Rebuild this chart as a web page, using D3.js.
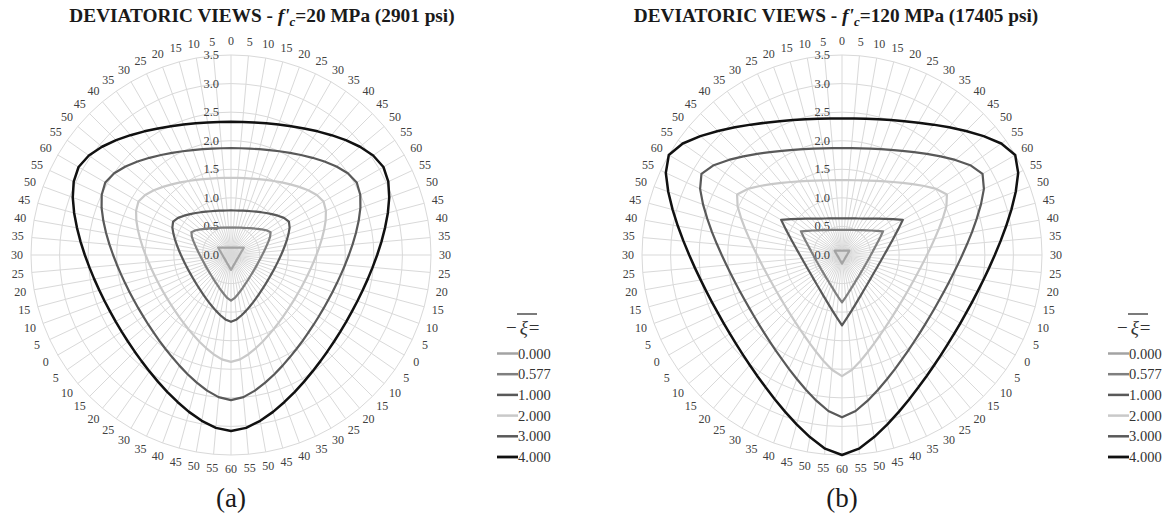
<!DOCTYPE html>
<html>
<head>
<meta charset="utf-8">
<script src="https://cdn.jsdelivr.net/npm/d3@7"></script>
<style>
  body { margin: 0; background: #fff; }
  svg { display: block; }
  svg text { font-family: "Liberation Serif", "DejaVu Serif", serif; }
</style>
</head>
<body>
<svg id="chart" width="1167" height="520"></svg>
<script>
// Lode angle label on each of the 72 spokes, clockwise from the top
const spokeLabels = [
  0, 5, 10, 15, 20, 25, 30, 35, 40, 45, 50, 55, 60, 55, 50, 45, 40, 35, 30, 25, 20, 15, 10, 5,
  0, 5, 10, 15, 20, 25, 30, 35, 40, 45, 50, 55, 60, 55, 50, 45, 40, 35, 30, 25, 20, 15, 10, 5,
  0, 5, 10, 15, 20, 25, 30, 35, 40, 45, 50, 55, 60, 55, 50, 45, 40, 35, 30, 25, 20, 15, 10, 5
];

// the deviatoric radius only depends on the Lode angle
const lodeAngles = [0, 5, 10, 15, 20, 25, 30, 35, 40, 45, 50, 55, 60];

const xiLevels = ["0.000", "0.577", "1.000", "2.000", "3.000", "4.000"];
const radialTicks = [0, 0.5, 1, 1.5, 2, 2.5, 3, 3.5];

// (a) f'c = 20 MPa, radius at each Lode angle
const a_xi0000 = [0.130, 0.130, 0.132, 0.135, 0.138, 0.143, 0.150, 0.159, 0.170, 0.184, 0.202, 0.227, 0.260];
const a_xi0577 = [0.480, 0.482, 0.487, 0.495, 0.508, 0.525, 0.546, 0.573, 0.607, 0.648, 0.698, 0.755, 0.800];
const a_xi1000 = [0.780, 0.782, 0.790, 0.803, 0.821, 0.845, 0.876, 0.914, 0.959, 1.012, 1.071, 1.132, 1.170];
const a_xi2000 = [1.350, 1.354, 1.365, 1.385, 1.413, 1.449, 1.495, 1.550, 1.614, 1.686, 1.763, 1.833, 1.870];
const a_xi3000 = [1.870, 1.875, 1.891, 1.917, 1.954, 2.003, 2.063, 2.136, 2.220, 2.313, 2.410, 2.496, 2.540];
const a_xi4000 = [2.330, 2.336, 2.355, 2.386, 2.430, 2.487, 2.558, 2.642, 2.737, 2.842, 2.947, 3.037, 3.080];

// (b) f'c = 120 MPa
const b_xi0000 = [0.075, 0.075, 0.076, 0.078, 0.080, 0.083, 0.087, 0.092, 0.098, 0.106, 0.117, 0.131, 0.150];
const b_xi0577 = [0.440, 0.442, 0.446, 0.455, 0.467, 0.483, 0.504, 0.532, 0.566, 0.610, 0.667, 0.739, 0.830];
const b_xi1000 = [0.640, 0.642, 0.650, 0.662, 0.681, 0.705, 0.737, 0.779, 0.831, 0.898, 0.983, 1.092, 1.230];
const b_xi2000 = [1.310, 1.315, 1.328, 1.352, 1.385, 1.430, 1.487, 1.559, 1.647, 1.753, 1.878, 2.016, 2.120];
const b_xi3000 = [1.870, 1.876, 1.895, 1.926, 1.971, 2.030, 2.105, 2.198, 2.310, 2.440, 2.588, 2.740, 2.840];
const b_xi4000 = [2.390, 2.397, 2.420, 2.458, 2.512, 2.584, 2.674, 2.785, 2.917, 3.069, 3.236, 3.402, 3.500];

const panelA = [a_xi0000, a_xi0577, a_xi1000, a_xi2000, a_xi3000, a_xi4000];
const panelB = [b_xi0000, b_xi0577, b_xi1000, b_xi2000, b_xi3000, b_xi4000];

// line look of each xi level
const lineColors = ["#a3a3a3", "#7f7f7f", "#595959", "#c9c9c9", "#595959", "#111111"];
const lineWidths = [2.2, 2.2, 2.2, 2.2, 2.2, 2.5];

const serif = "Liberation Serif, DejaVu Serif, serif";
const gridColor = "#d9d9d9";
const textColor = "#404040";
const R = 200;

const svg = d3.select("#chart");
svg.append("rect").attr("width", 1167).attr("height", 520).attr("fill", "#fff");

const r = d3.scaleLinear().domain([0, 3.5]).range([0, R]);
const ang = d3.scaleLinear().domain([0, spokeLabels.length]).range([0, 2 * Math.PI]);

const radar = d3.lineRadial()
  .angle((d, i) => ang(i))
  .radius(d => r(d))
  .curve(d3.curveLinearClosed);

function drawPanel(cx, cy, series, titleLeft, titleRight, titleX, tag) {
  const g = svg.append("g").attr("transform", `translate(${cx},${cy})`);

  // rings (72-sided, like the spreadsheet draws them)
  g.selectAll(".ring")
    .data(radialTicks.slice(1))
    .join("path")
    .attr("class", "ring")
    .attr("d", t => radar(spokeLabels.map(() => t)))
    .attr("fill", "none")
    .attr("stroke", gridColor)
    .attr("stroke-width", 1);

  // spokes
  g.selectAll(".spoke")
    .data(spokeLabels)
    .join("line")
    .attr("class", "spoke")
    .attr("x1", 0).attr("y1", 0)
    .attr("x2", (d, i) => R * Math.sin(ang(i)))
    .attr("y2", (d, i) => -R * Math.cos(ang(i)))
    .attr("stroke", gridColor)
    .attr("stroke-width", 1);

  // Lode angle labels round the outside
  g.selectAll(".cat")
    .data(spokeLabels)
    .join("text")
    .attr("class", "cat")
    .attr("x", (d, i) => 214 * Math.sin(ang(i)))
    .attr("y", (d, i) => -214 * Math.cos(ang(i)))
    .attr("text-anchor", "middle")
    .attr("dominant-baseline", "central")
    .attr("font-family", serif)
    .attr("font-size", 12)
    .attr("fill", textColor)
    .text(d => d);

  // radial value labels along the top spoke
  g.selectAll(".val")
    .data(radialTicks)
    .join("text")
    .attr("class", "val")
    .attr("x", -12)
    .attr("y", d => -r(d))
    .attr("text-anchor", "end")
    .attr("dominant-baseline", "central")
    .attr("font-family", serif)
    .attr("font-size", 12.5)
    .attr("fill", textColor)
    .text(d => d3.format(".1f")(d));

  // the deviatoric sections
  series.forEach((vals, k) => {
    const perSpoke = spokeLabels.map(l => vals[lodeAngles.indexOf(l)]);
    g.append("path")
      .attr("d", radar(perSpoke))
      .attr("fill", "none")
      .attr("stroke", lineColors[k])
      .attr("stroke-width", lineWidths[k])
      .attr("stroke-linejoin", "round");
  });

  // title
  const t = svg.append("text")
    .attr("x", titleX).attr("y", 22)
    .attr("text-anchor", "middle")
    .attr("font-family", serif)
    .attr("font-size", 19.3)
    .attr("font-weight", "bold")
    .attr("fill", "#1a1a1a");
  t.append("tspan").text(titleLeft);
  t.append("tspan").attr("font-style", "italic").text("f'");
  t.append("tspan").attr("font-style", "italic").attr("font-size", 13).attr("dy", 4).text("c");
  t.append("tspan").attr("dy", -4).text(titleRight);

  // (a) / (b)
  svg.append("text")
    .attr("x", cx).attr("y", 507)
    .attr("text-anchor", "middle")
    .attr("font-family", serif)
    .attr("font-size", 27)
    .attr("fill", "#1a1a1a")
    .text(tag);

  // legend
  const lx = cx + 266;
  const lg = svg.append("g").attr("transform", `translate(${lx},0)`);
  const lt = lg.append("text")
    .attr("x", 9).attr("y", 327)
    .attr("dominant-baseline", "central")
    .attr("font-family", serif)
    .attr("font-size", 19)
    .attr("fill", "#333");
  lt.append("tspan").text("\u2212");
  lt.append("tspan").attr("font-style", "italic").attr("dx", 3).text("\u03be");
  lt.append("tspan").attr("dx", 1).text("=");
  lg.append("line")
    .attr("x1", 20).attr("x2", 40)
    .attr("y1", 314).attr("y2", 314)
    .attr("stroke", "#333").attr("stroke-width", 1.3);

  const item = lg.selectAll(".item")
    .data(xiLevels)
    .join("g")
    .attr("class", "item")
    .attr("transform", (d, i) => `translate(0,${353.5 + i * 20.7})`);
  item.append("line")
    .attr("x1", 0).attr("x2", 21)
    .attr("stroke", (d, i) => lineColors[i])
    .attr("stroke-width", (d, i) => lineWidths[i] + 0.3);
  item.append("text")
    .attr("x", 21)
    .attr("dominant-baseline", "central")
    .attr("font-family", serif)
    .attr("font-size", 14.5)
    .attr("fill", "#333")
    .text(d => d);
}

drawPanel(231, 255, panelA, "DEVIATORIC VIEWS - ", "=20 MPa (2901 psi)", 262, "(a)");
drawPanel(842, 255, panelB, "DEVIATORIC VIEWS - ", "=120 MPa (17405 psi)", 836, "(b)");
</script>
</body>
</html>
